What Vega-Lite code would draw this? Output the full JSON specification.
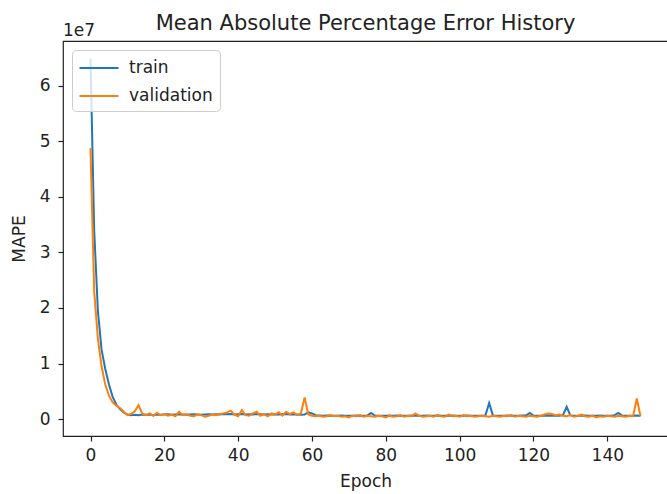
{
  "$schema": "https://vega.github.io/schema/vega-lite/v6.json",
  "width": 605,
  "height": 395,
  "autosize": {"type": "none"},
  "padding": {"left": 63, "top": 41, "right": 0, "bottom": 58},
  "background": "white",
  "config": {
    "font": "DejaVu Sans",
    "view": {"stroke": "#222", "strokeWidth": 1.2},
    "axis": {
      "domain": false,
      "grid": false,
      "ticks": true,
      "tickColor": "#222",
      "tickSize": 5,
      "tickWidth": 1.2,
      "labelColor": "#222",
      "labelFontSize": 17,
      "labelFont": "DejaVu Sans",
      "titleFont": "DejaVu Sans",
      "titleFontSize": 17,
      "titleFontWeight": "normal",
      "titleColor": "#222"
    },
    "title": {"font": "DejaVu Sans", "fontSize": 21, "fontWeight": "normal", "color": "#222"}
  },
  "title": {"text": "Mean Absolute Percentage Error History", "anchor": "middle", "offset": -12},
  "datasets": {
    "history": [
      {"epoch": 0, "train": 64900000, "validation": 48800000},
      {"epoch": 1, "train": 34000000, "validation": 23000000},
      {"epoch": 2, "train": 19500000, "validation": 14500000},
      {"epoch": 3, "train": 12500000, "validation": 9500000},
      {"epoch": 4, "train": 9000000, "validation": 6200000},
      {"epoch": 5, "train": 6200000, "validation": 4200000},
      {"epoch": 6, "train": 4000000, "validation": 3000000},
      {"epoch": 7, "train": 2600000, "validation": 2400000},
      {"epoch": 8, "train": 1800000, "validation": 2000000},
      {"epoch": 9, "train": 1200000, "validation": 1300000},
      {"epoch": 10, "train": 800000, "validation": 700000},
      {"epoch": 11, "train": 700000, "validation": 900000},
      {"epoch": 12, "train": 750000, "validation": 1400000},
      {"epoch": 13, "train": 700000, "validation": 2500000},
      {"epoch": 14, "train": 800000, "validation": 1000000},
      {"epoch": 15, "train": 750000, "validation": 700000},
      {"epoch": 16, "train": 800000, "validation": 1000000},
      {"epoch": 17, "train": 700000, "validation": 600000},
      {"epoch": 18, "train": 800000, "validation": 1100000},
      {"epoch": 19, "train": 750000, "validation": 700000},
      {"epoch": 20, "train": 800000, "validation": 900000},
      {"epoch": 21, "train": 850000, "validation": 600000},
      {"epoch": 22, "train": 750000, "validation": 800000},
      {"epoch": 23, "train": 800000, "validation": 500000},
      {"epoch": 24, "train": 850000, "validation": 1300000},
      {"epoch": 25, "train": 800000, "validation": 700000},
      {"epoch": 26, "train": 750000, "validation": 900000},
      {"epoch": 27, "train": 800000, "validation": 600000},
      {"epoch": 28, "train": 850000, "validation": 500000},
      {"epoch": 29, "train": 800000, "validation": 800000},
      {"epoch": 30, "train": 750000, "validation": 700000},
      {"epoch": 31, "train": 800000, "validation": 400000},
      {"epoch": 32, "train": 850000, "validation": 600000},
      {"epoch": 33, "train": 800000, "validation": 800000},
      {"epoch": 34, "train": 850000, "validation": 700000},
      {"epoch": 35, "train": 800000, "validation": 900000},
      {"epoch": 36, "train": 900000, "validation": 1000000},
      {"epoch": 37, "train": 850000, "validation": 1200000},
      {"epoch": 38, "train": 900000, "validation": 1500000},
      {"epoch": 39, "train": 800000, "validation": 800000},
      {"epoch": 40, "train": 850000, "validation": 500000},
      {"epoch": 41, "train": 900000, "validation": 1600000},
      {"epoch": 42, "train": 800000, "validation": 700000},
      {"epoch": 43, "train": 850000, "validation": 600000},
      {"epoch": 44, "train": 800000, "validation": 1000000},
      {"epoch": 45, "train": 900000, "validation": 1300000},
      {"epoch": 46, "train": 850000, "validation": 600000},
      {"epoch": 47, "train": 800000, "validation": 900000},
      {"epoch": 48, "train": 850000, "validation": 500000},
      {"epoch": 49, "train": 800000, "validation": 1000000},
      {"epoch": 50, "train": 850000, "validation": 800000},
      {"epoch": 51, "train": 800000, "validation": 1200000},
      {"epoch": 52, "train": 850000, "validation": 600000},
      {"epoch": 53, "train": 900000, "validation": 1300000},
      {"epoch": 54, "train": 800000, "validation": 900000},
      {"epoch": 55, "train": 850000, "validation": 1200000},
      {"epoch": 56, "train": 800000, "validation": 700000},
      {"epoch": 57, "train": 750000, "validation": 1000000},
      {"epoch": 58, "train": 800000, "validation": 3900000},
      {"epoch": 59, "train": 1200000, "validation": 800000},
      {"epoch": 60, "train": 1000000, "validation": 600000},
      {"epoch": 61, "train": 700000, "validation": 500000},
      {"epoch": 62, "train": 650000, "validation": 600000},
      {"epoch": 63, "train": 600000, "validation": 400000},
      {"epoch": 64, "train": 620000, "validation": 500000},
      {"epoch": 65, "train": 600000, "validation": 700000},
      {"epoch": 66, "train": 580000, "validation": 500000},
      {"epoch": 67, "train": 600000, "validation": 600000},
      {"epoch": 68, "train": 620000, "validation": 400000},
      {"epoch": 69, "train": 600000, "validation": 500000},
      {"epoch": 70, "train": 580000, "validation": 300000},
      {"epoch": 71, "train": 600000, "validation": 600000},
      {"epoch": 72, "train": 620000, "validation": 500000},
      {"epoch": 73, "train": 600000, "validation": 700000},
      {"epoch": 74, "train": 600000, "validation": 400000},
      {"epoch": 75, "train": 650000, "validation": 600000},
      {"epoch": 76, "train": 1100000, "validation": 500000},
      {"epoch": 77, "train": 620000, "validation": 400000},
      {"epoch": 78, "train": 600000, "validation": 600000},
      {"epoch": 79, "train": 580000, "validation": 500000},
      {"epoch": 80, "train": 600000, "validation": 300000},
      {"epoch": 81, "train": 620000, "validation": 600000},
      {"epoch": 82, "train": 600000, "validation": 400000},
      {"epoch": 83, "train": 650000, "validation": 500000},
      {"epoch": 84, "train": 600000, "validation": 700000},
      {"epoch": 85, "train": 580000, "validation": 400000},
      {"epoch": 86, "train": 600000, "validation": 600000},
      {"epoch": 87, "train": 620000, "validation": 500000},
      {"epoch": 88, "train": 600000, "validation": 1000000},
      {"epoch": 89, "train": 580000, "validation": 600000},
      {"epoch": 90, "train": 600000, "validation": 400000},
      {"epoch": 91, "train": 620000, "validation": 500000},
      {"epoch": 92, "train": 600000, "validation": 600000},
      {"epoch": 93, "train": 600000, "validation": 400000},
      {"epoch": 94, "train": 650000, "validation": 700000},
      {"epoch": 95, "train": 600000, "validation": 500000},
      {"epoch": 96, "train": 580000, "validation": 400000},
      {"epoch": 97, "train": 600000, "validation": 800000},
      {"epoch": 98, "train": 620000, "validation": 500000},
      {"epoch": 99, "train": 600000, "validation": 600000},
      {"epoch": 100, "train": 580000, "validation": 400000},
      {"epoch": 101, "train": 600000, "validation": 700000},
      {"epoch": 102, "train": 620000, "validation": 500000},
      {"epoch": 103, "train": 600000, "validation": 600000},
      {"epoch": 104, "train": 600000, "validation": 400000},
      {"epoch": 105, "train": 580000, "validation": 500000},
      {"epoch": 106, "train": 600000, "validation": 600000},
      {"epoch": 107, "train": 650000, "validation": 500000},
      {"epoch": 108, "train": 2900000, "validation": 400000},
      {"epoch": 109, "train": 650000, "validation": 600000},
      {"epoch": 110, "train": 600000, "validation": 500000},
      {"epoch": 111, "train": 580000, "validation": 400000},
      {"epoch": 112, "train": 600000, "validation": 600000},
      {"epoch": 113, "train": 620000, "validation": 500000},
      {"epoch": 114, "train": 600000, "validation": 700000},
      {"epoch": 115, "train": 580000, "validation": 400000},
      {"epoch": 116, "train": 600000, "validation": 600000},
      {"epoch": 117, "train": 620000, "validation": 500000},
      {"epoch": 118, "train": 650000, "validation": 400000},
      {"epoch": 119, "train": 1100000, "validation": 600000},
      {"epoch": 120, "train": 620000, "validation": 500000},
      {"epoch": 121, "train": 600000, "validation": 400000},
      {"epoch": 122, "train": 580000, "validation": 600000},
      {"epoch": 123, "train": 600000, "validation": 800000},
      {"epoch": 124, "train": 620000, "validation": 1000000},
      {"epoch": 125, "train": 600000, "validation": 900000},
      {"epoch": 126, "train": 580000, "validation": 700000},
      {"epoch": 127, "train": 600000, "validation": 800000},
      {"epoch": 128, "train": 700000, "validation": 600000},
      {"epoch": 129, "train": 2200000, "validation": 500000},
      {"epoch": 130, "train": 650000, "validation": 700000},
      {"epoch": 131, "train": 600000, "validation": 400000},
      {"epoch": 132, "train": 580000, "validation": 600000},
      {"epoch": 133, "train": 600000, "validation": 800000},
      {"epoch": 134, "train": 620000, "validation": 500000},
      {"epoch": 135, "train": 600000, "validation": 400000},
      {"epoch": 136, "train": 580000, "validation": 600000},
      {"epoch": 137, "train": 600000, "validation": 300000},
      {"epoch": 138, "train": 620000, "validation": 500000},
      {"epoch": 139, "train": 600000, "validation": 400000},
      {"epoch": 140, "train": 580000, "validation": 600000},
      {"epoch": 141, "train": 600000, "validation": 500000},
      {"epoch": 142, "train": 700000, "validation": 400000},
      {"epoch": 143, "train": 1100000, "validation": 600000},
      {"epoch": 144, "train": 620000, "validation": 500000},
      {"epoch": 145, "train": 600000, "validation": 400000},
      {"epoch": 146, "train": 580000, "validation": 600000},
      {"epoch": 147, "train": 600000, "validation": 500000},
      {"epoch": 148, "train": 620000, "validation": 3700000},
      {"epoch": 149, "train": 600000, "validation": 500000}
    ],
    "offsetLabel": [{"epoch": -7.45, "mape": 68100000, "label": "1e7"}]
  },
  "layer": [
    {
      "data": {"name": "history"},
      "transform": [{"fold": ["train", "validation"], "as": ["series", "mape"]}],
      "mark": {"type": "line", "strokeWidth": 2, "clip": true},
      "encoding": {
        "x": {
          "field": "epoch",
          "type": "quantitative",
          "scale": {"domain": [-7.45, 156.45], "nice": false, "zero": false},
          "axis": {"title": "Epoch", "values": [0, 20, 40, 60, 80, 100, 120, 140], "labelPadding": 6, "titlePadding": 10}
        },
        "y": {
          "field": "mape",
          "type": "quantitative",
          "scale": {"domain": [-3060000, 68100000], "nice": false, "zero": false},
          "axis": {
            "title": "MAPE",
            "values": [0, 10000000, 20000000, 30000000, 40000000, 50000000, 60000000],
            "labelExpr": "format(datum.value / 10000000, 'd')",
            "labelPadding": 8,
            "titlePadding": 11
          }
        },
        "color": {
          "field": "series",
          "type": "nominal",
          "scale": {"domain": ["train", "validation"], "range": ["#1f77b4", "#ff7f0e"]},
          "legend": {
            "title": null,
            "orient": "none",
            "legendX": 9,
            "legendY": 9,
            "fillColor": "rgba(255,255,255,0.8)",
            "strokeColor": "#cccccc",
            "cornerRadius": 4,
            "padding": 7,
            "symbolType": "M-2,0H2",
            "symbolSize": 380,
            "symbolStrokeWidth": 2,
            "symbolOffset": 9,
            "labelFontSize": 17,
            "labelFont": "DejaVu Sans",
            "labelColor": "#222",
            "labelOffset": 19,
            "rowPadding": 9
          }
        }
      }
    },
    {
      "data": {"name": "offsetLabel"},
      "mark": {"type": "text", "align": "left", "baseline": "bottom", "dy": -1, "fontSize": 17, "font": "DejaVu Sans", "color": "#222", "clip": false},
      "encoding": {
        "x": {"field": "epoch", "type": "quantitative"},
        "y": {"field": "mape", "type": "quantitative"},
        "text": {"field": "label"}
      }
    }
  ]
}
